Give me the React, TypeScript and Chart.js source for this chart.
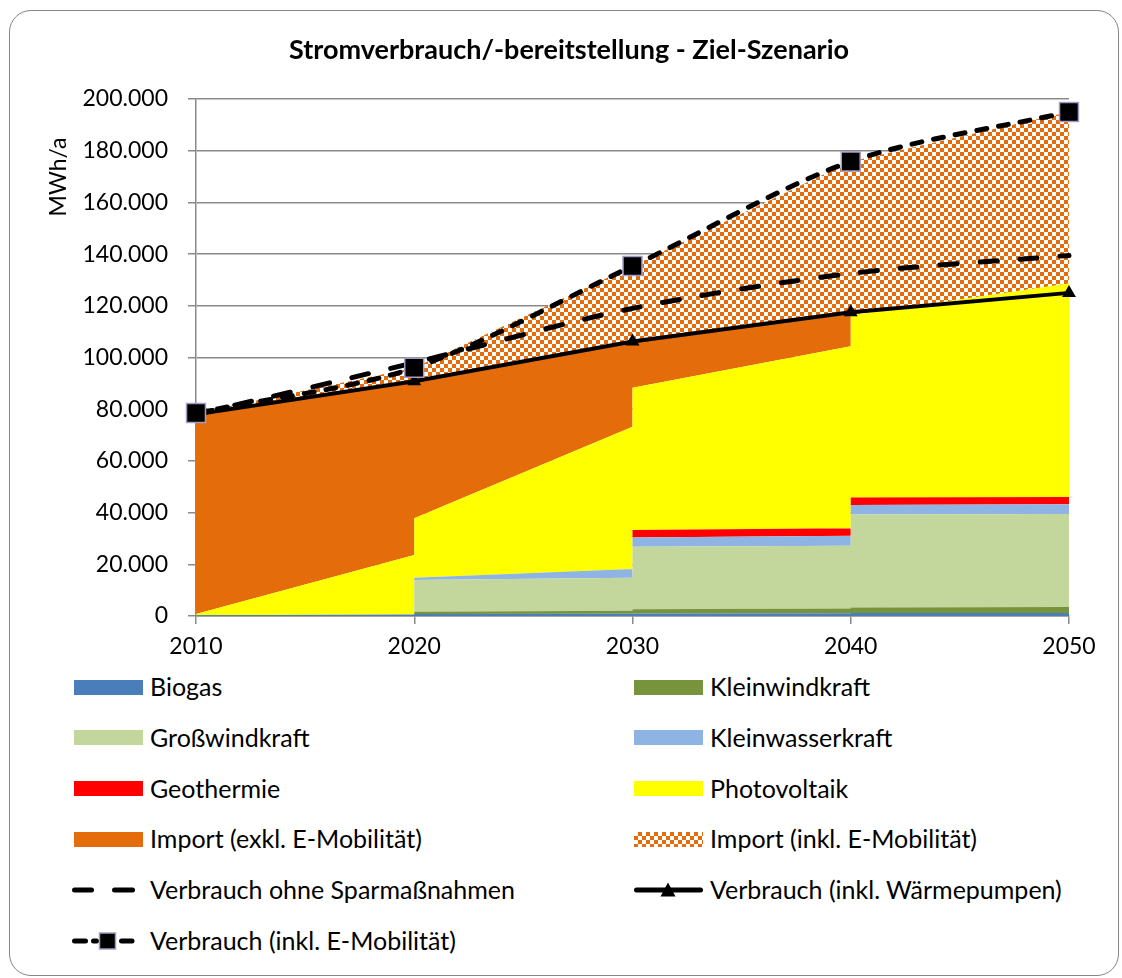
import React, { useEffect, useRef } from "react";
import { Chart, registerables } from "chart.js";

Chart.register(...registerables);

// ---------- data ----------
const years = [2010, 2020, 2030, 2040, 2050];
// x positions of the stacked areas (values change at the start of each decade)
const areaX = [2010, 2020, 2020, 2030, 2030, 2040, 2040, 2050];

const biogas = [300, 600, 800, 900, 1000, 1100, 1200, 1200];
const kleinwind = [0, 0, 800, 1100, 1600, 1800, 2100, 2300];
const grosswind = [0, 0, 12300, 12800, 24200, 24300, 36000, 36000];
const kleinwasser = [0, 0, 900, 3400, 3600, 3800, 3600, 3700];
const geothermie = [0, 0, 0, 0, 2900, 2900, 2900, 2800];
const photovoltaik = [500, 23000, 23000, 55000, 55000, 70500, 70500, 82600];
const importExkl = [77200, 67000, 52800, 33000, 17900, 13100, 0, 0];
const importInkl = [500, 5400, 5400, 29200, 29200, 58300, 59500, 66400];

const verbrauchOhne = [78000, 98000, 119000, 132500, 139500];
const verbrauchWaerme = [78000, 90800, 106200, 117500, 125000];
const verbrauchEMob = [78500, 96000, 135400, 175800, 195000];

const yTicks = [0, 20000, 40000, 60000, 80000, 100000, 120000, 140000, 160000, 180000, 200000];

const areaNames = [
  "Biogas",
  "Kleinwindkraft",
  "Großwindkraft",
  "Kleinwasserkraft",
  "Geothermie",
  "Photovoltaik",
  "Import (exkl. E-Mobilität)",
  "Import (inkl. E-Mobilität)",
];
const lineNames = [
  "Verbrauch ohne Sparmaßnahmen",
  "Verbrauch (inkl. Wärmepumpen)",
  "Verbrauch (inkl. E-Mobilität)",
];
const areaColors = ["#4A7EBB", "#77933C", "#C3D69B", "#8EB4E3", "#FF0000", "#FFFF00", "#E46C0A", "pattern"];

const TITLE = "Stromverbrauch/-bereitstellung - Ziel-Szenario";
const Y_TITLE = "MWh/a";

// ---------- style ----------
const FONT = "Lato, 'Open Sans', sans-serif";
const GRID = "#8a8a8a";
const ORANGE = "#E46C0A";
const MARKER_BORDER = "#a59bc4";
const CELL = 4;

const fmtDe = (v: number) => String(Math.round(v)).replace(/\B(?=(\d{3})+(?!\d))/g, ".");

function makePattern(ctx: CanvasRenderingContext2D) {
  const t = document.createElement("canvas");
  t.width = CELL * 2;
  t.height = CELL * 2;
  const c = t.getContext("2d")!;
  c.fillStyle = "#ffffff";
  c.fillRect(0, 0, CELL * 2, CELL * 2);
  c.fillStyle = ORANGE;
  c.fillRect(0, 0, CELL, CELL);
  c.fillRect(CELL, CELL, CELL, CELL);
  return ctx.createPattern(t, "repeat")!;
}

const titlesPlugin = {
  id: "titles",
  afterDraw(chart: any) {
    const ctx = chart.ctx as CanvasRenderingContext2D;
    ctx.save();
    ctx.fillStyle = "#000";
    ctx.textAlign = "center";
    ctx.textBaseline = "middle";
    ctx.font = `bold 27px ${FONT}`;
    ctx.fillText(TITLE, 569, 50);
    ctx.translate(59, 177);
    ctx.rotate(-Math.PI / 2);
    ctx.font = `23px ${FONT}`;
    ctx.fillText(Y_TITLE, 0, 0);
    ctx.restore();
  },
};

type LegendItem = { name: string; kind: string; color?: string };
const legendRows: LegendItem[][] = [
  [{ name: areaNames[0], kind: "area", color: areaColors[0] }, { name: areaNames[1], kind: "area", color: areaColors[1] }],
  [{ name: areaNames[2], kind: "area", color: areaColors[2] }, { name: areaNames[3], kind: "area", color: areaColors[3] }],
  [{ name: areaNames[4], kind: "area", color: areaColors[4] }, { name: areaNames[5], kind: "area", color: areaColors[5] }],
  [{ name: areaNames[6], kind: "area", color: areaColors[6] }, { name: areaNames[7], kind: "pattern" }],
  [{ name: lineNames[0], kind: "dash" }, { name: lineNames[1], kind: "triangle" }],
  [{ name: lineNames[2], kind: "dashSquare" }],
];

function Swatch({ kind, color, center, left }: { kind: string; color?: string; center: number; left: number }) {
  if (kind === "area" || kind === "pattern") {
    const bg =
      kind === "pattern"
        ? `repeating-conic-gradient(${ORANGE} 0 25%, #ffffff 0 50%) 0 0 / ${CELL * 2}px ${CELL * 2}px`
        : color;
    return (
      <div style={{ position: "absolute", left, top: center - 7.5, width: 68.5, height: 15, background: bg }} />
    );
  }
  const top = center - 11;
  return (
    <svg style={{ position: "absolute", left: left - 4, top }} width={76} height={22}>
      {kind === "dash" && (
        <g stroke="#000" strokeWidth={5} strokeLinecap="round">
          <line x1={4.5} y1={11} x2={21.5} y2={11} />
          <line x1={44.5} y1={11} x2={62.5} y2={11} />
        </g>
      )}
      {kind === "triangle" && (
        <g>
          <line x1={6.5} y1={11} x2={70.5} y2={11} stroke="#000" strokeWidth={5} strokeLinecap="round" />
          <polygon points="38,3.5 30.5,17.5 45.5,17.5" fill="#000" />
        </g>
      )}
      {kind === "dashSquare" && (
        <g>
          <g stroke="#000" strokeWidth={5} strokeLinecap="round">
            <line x1={4.5} y1={11} x2={15.5} y2={11} />
            <line x1={23.5} y1={11} x2={26.5} y2={11} />
            <line x1={51.5} y1={11} x2={62} y2={11} />
          </g>
          <rect x={29.5} y={3} width={16} height={16} fill="#000" stroke={MARKER_BORDER} strokeWidth={1.5} />
        </g>
      )}
    </svg>
  );
}

export default function App() {
  const ref = useRef<HTMLCanvasElement>(null);

  useEffect(() => {
    const canvas = ref.current!;
    const ctx = canvas.getContext("2d")!;
    const pattern = makePattern(ctx);

    const areaSeries = [biogas, kleinwind, grosswind, kleinwasser, geothermie, photovoltaik, importExkl, importInkl];
    let run = areaX.map(() => 0);
    const cums = areaSeries.map((s) => {
      run = run.map((v, j) => v + s[j]);
      return run;
    });

    const areaDatasets = cums.map((cum, i) => ({
      type: "line" as const,
      label: areaNames[i],
      data: areaX.map((x, j) => ({ x, y: cum[j] })),
      fill: i === 0 ? "origin" : "-1",
      backgroundColor: areaColors[i] === "pattern" ? pattern : areaColors[i],
      borderWidth: 0,
      borderColor: "rgba(0,0,0,0)",
      pointRadius: 0,
      tension: 0,
    }));

    const lineBase = {
      type: "line" as const,
      fill: false,
      borderColor: "#000",
      pointBackgroundColor: "#000",
      pointBorderColor: "#000",
      clip: false as const,
    };

    const lineDatasets = [
      {
        ...lineBase,
        label: lineNames[2],
        data: years.map((x, j) => ({ x, y: verbrauchEMob[j] })),
        borderWidth: 5,
        borderDash: [10, 12],
        borderCapStyle: "round" as const,
        tension: 0.3,
        pointStyle: "rect" as const,
        pointRadius: 13.4,
        pointBorderColor: MARKER_BORDER,
        pointBorderWidth: 1.5,
      },
      {
        ...lineBase,
        label: lineNames[1],
        data: years.map((x, j) => ({ x, y: verbrauchWaerme[j] })),
        borderWidth: 4,
        tension: 0,
        pointStyle: "triangle" as const,
        pointRadius: 8,
        pointBorderWidth: 0,
      },
      {
        ...lineBase,
        label: lineNames[0],
        data: years.map((x, j) => ({ x, y: verbrauchOhne[j] })),
        borderWidth: 5,
        borderDash: [17, 23],
        borderCapStyle: "round" as const,
        tension: 0.3,
        pointRadius: 0,
      },
    ];

    const tickFont = { family: FONT, size: 23 };

    const chart = new Chart(canvas, {
      type: "line",
      data: { datasets: [...areaDatasets, ...lineDatasets] as any },
      plugins: [titlesPlugin],
      options: {
        responsive: false,
        animation: false,
        devicePixelRatio: 1,
        layout: { padding: { left: 0, right: 53, top: 99, bottom: 0 } },
        plugins: {
          legend: { display: false },
          tooltip: { enabled: false },
          filler: { drawTime: "beforeDatasetsDraw" },
        } as any,
        scales: {
          x: {
            type: "linear",
            min: 2010,
            max: 2050,
            ticks: {
              stepSize: 10,
              autoSkip: false,
              maxRotation: 0,
              padding: 9,
              color: "#000",
              font: tickFont,
              callback: (v: any) => String(v),
            },
            grid: { drawOnChartArea: false, drawTicks: true, tickLength: 8, color: GRID, lineWidth: 1.5 },
            border: { color: GRID, width: 1.5 },
            afterFit: (s: any) => {
              s.height = 54;
            },
          },
          y: {
            min: 0,
            max: 200000,
            afterBuildTicks: (s: any) => {
              s.ticks = yTicks.map((v) => ({ value: v }));
            },
            ticks: {
              padding: 20,
              color: "#000",
              font: tickFont,
              callback: (v: any) => fmtDe(Number(v)),
            },
            grid: { color: GRID, lineWidth: 1.5, tickLength: 8 },
            border: { color: GRID, width: 1.5 },
            afterFit: (s: any) => {
              s.width = 196;
            },
          },
        },
      } as any,
    });
    return () => chart.destroy();
  }, []);

  const rowCenter = 687;
  const rowStep = 50.7;
  const FS = 25;

  return (
    <div
      style={{
        position: "absolute",
        left: 0,
        top: 0,
        width: 1122,
        height: 978,
        overflow: "hidden",
        background: "#fff",
        fontFamily: FONT,
      }}
    >
      <div
        style={{
          position: "absolute",
          left: 9,
          top: 10,
          width: 1110,
          height: 966,
          border: "1.5px solid #868686",
          borderRadius: 22,
          boxSizing: "border-box",
        }}
      />
      <canvas
        ref={ref}
        width={1122}
        height={670}
        style={{ position: "absolute", left: 0, top: 0, width: 1122, height: 670, display: "block" }}
      />
      {legendRows.map((row, r) =>
        row.map((item, c) => {
          const center = rowCenter + r * rowStep;
          const baseline = center + 0.36 * FS;
          const sx = c === 0 ? 74 : 634;
          const tx = c === 0 ? 150 : 710;
          return (
            <React.Fragment key={`${r}-${c}`}>
              <Swatch kind={item.kind} color={item.color} center={center} left={sx} />
              <div
                style={{
                  position: "absolute",
                  left: tx,
                  top: baseline - 0.987 * FS,
                  fontSize: FS,
                  lineHeight: `${1.2 * FS}px`,
                  color: "#000",
                  whiteSpace: "nowrap",
                }}
              >
                {item.name}
              </div>
            </React.Fragment>
          );
        })
      )}
    </div>
  );
}
